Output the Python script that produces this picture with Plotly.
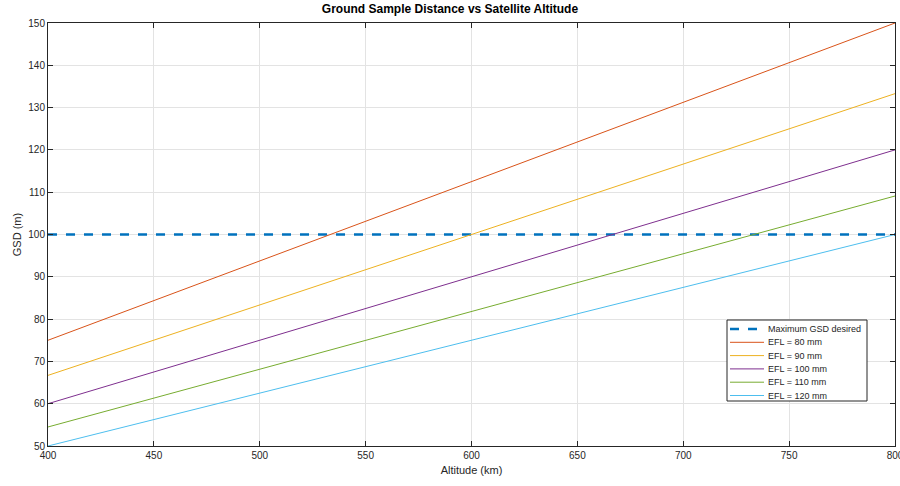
import plotly.graph_objects as go

# Altitude endpoints (km) and ground sample distance (m) for each focal length
altitude_km = [400, 800]
gsd_efl_80 = [75.0, 150.0]
gsd_efl_90 = [66.7, 133.3]
gsd_efl_100 = [60.0, 120.0]
gsd_efl_110 = [54.5, 109.1]
gsd_efl_120 = [50.0, 100.0]
max_gsd = [100, 100]

series_names = ["EFL = 80 mm", "EFL = 90 mm", "EFL = 100 mm", "EFL = 110 mm", "EFL = 120 mm"]
series_values = [gsd_efl_80, gsd_efl_90, gsd_efl_100, gsd_efl_110, gsd_efl_120]
series_colors = ["#D95319", "#EDB120", "#7E2F8E", "#77AC30", "#4DBEEE"]

x_ticks = [400, 450, 500, 550, 600, 650, 700, 750, 800]
y_ticks = [50, 60, 70, 80, 90, 100, 110, 120, 130, 140, 150]

W, H = 900, 486
ML, MR, MT, MB = 48, 5, 23, 40
PW, PH = W - ML - MR, H - MT - MB


def px_x(px):
    return (px - ML) / PW


def px_y(py):
    return (H - MB - py) / PH


fig = go.Figure()

fig.add_trace(go.Scatter(
    x=altitude_km, y=max_gsd, mode="lines", name="Maximum GSD desired",
    line=dict(color="#0072BD", width=2.5, dash="dash"), showlegend=False,
))
for name, vals, col in zip(series_names, series_values, series_colors):
    fig.add_trace(go.Scatter(
        x=altitude_km, y=vals, mode="lines", name=name,
        line=dict(color=col, width=1), showlegend=False,
    ))

axis_common = dict(
    showline=True, linecolor="#262626", linewidth=1, mirror="ticks",
    ticks="inside", ticklen=5, tickcolor="#262626",
    showgrid=True, gridcolor="#E3E3E3", gridwidth=1,
    zeroline=False, tickfont=dict(size=10, color="#262626"),
    ticklabeloverflow="allow", automargin=False,
)

fig.update_xaxes(range=[400, 800], tickvals=x_ticks,
                 title=dict(text="Altitude (km)", font=dict(size=11, color="#262626"), standoff=6),
                 **axis_common)
fig.update_yaxes(range=[50, 150], tickvals=y_ticks,
                 title=dict(text="GSD (m)", font=dict(size=11, color="#262626"), standoff=4),
                 **axis_common)

# Compact boxed legend drawn in the lower-right corner
shapes = [dict(type="rect", xref="paper", yref="paper",
               x0=px_x(727), x1=px_x(867), y0=px_y(401), y1=px_y(320),
               line=dict(color="#262626", width=1), fillcolor="white", layer="above")]
annotations = []
legend_names = ["Maximum GSD desired"] + series_names
legend_colors = ["#0072BD"] + series_colors
legend_styles = [("dash", 2.5)] + [("solid", 1)] * len(series_names)
for i, (nm, col, (dsh, wd)) in enumerate(zip(legend_names, legend_colors, legend_styles)):
    row_y = px_y(329 + 13.3 * i)
    shapes.append(dict(type="line", xref="paper", yref="paper",
                       x0=px_x(730), x1=px_x(764), y0=row_y, y1=row_y,
                       line=dict(color=col, width=wd, dash=dsh), layer="above"))
    annotations.append(dict(xref="paper", yref="paper", x=px_x(766), y=row_y,
                            xanchor="left", yanchor="middle", text=nm, showarrow=False,
                            font=dict(size=9, color="#262626")))

fig.update_layout(
    width=W, height=H,
    margin=dict(l=ML, r=MR, t=MT, b=MB, autoexpand=False),
    paper_bgcolor="white", plot_bgcolor="white",
    font=dict(family="Liberation Sans, Arial, sans-serif", color="#262626"),
    title=dict(text="<b>Ground Sample Distance vs Satellite Altitude</b>",
               x=0.5, xanchor="center", y=0.99, yanchor="top",
               font=dict(size=12, color="#000000")),
    shapes=shapes,
    annotations=annotations,
    showlegend=False,
)

fig.write_html("out.html")
